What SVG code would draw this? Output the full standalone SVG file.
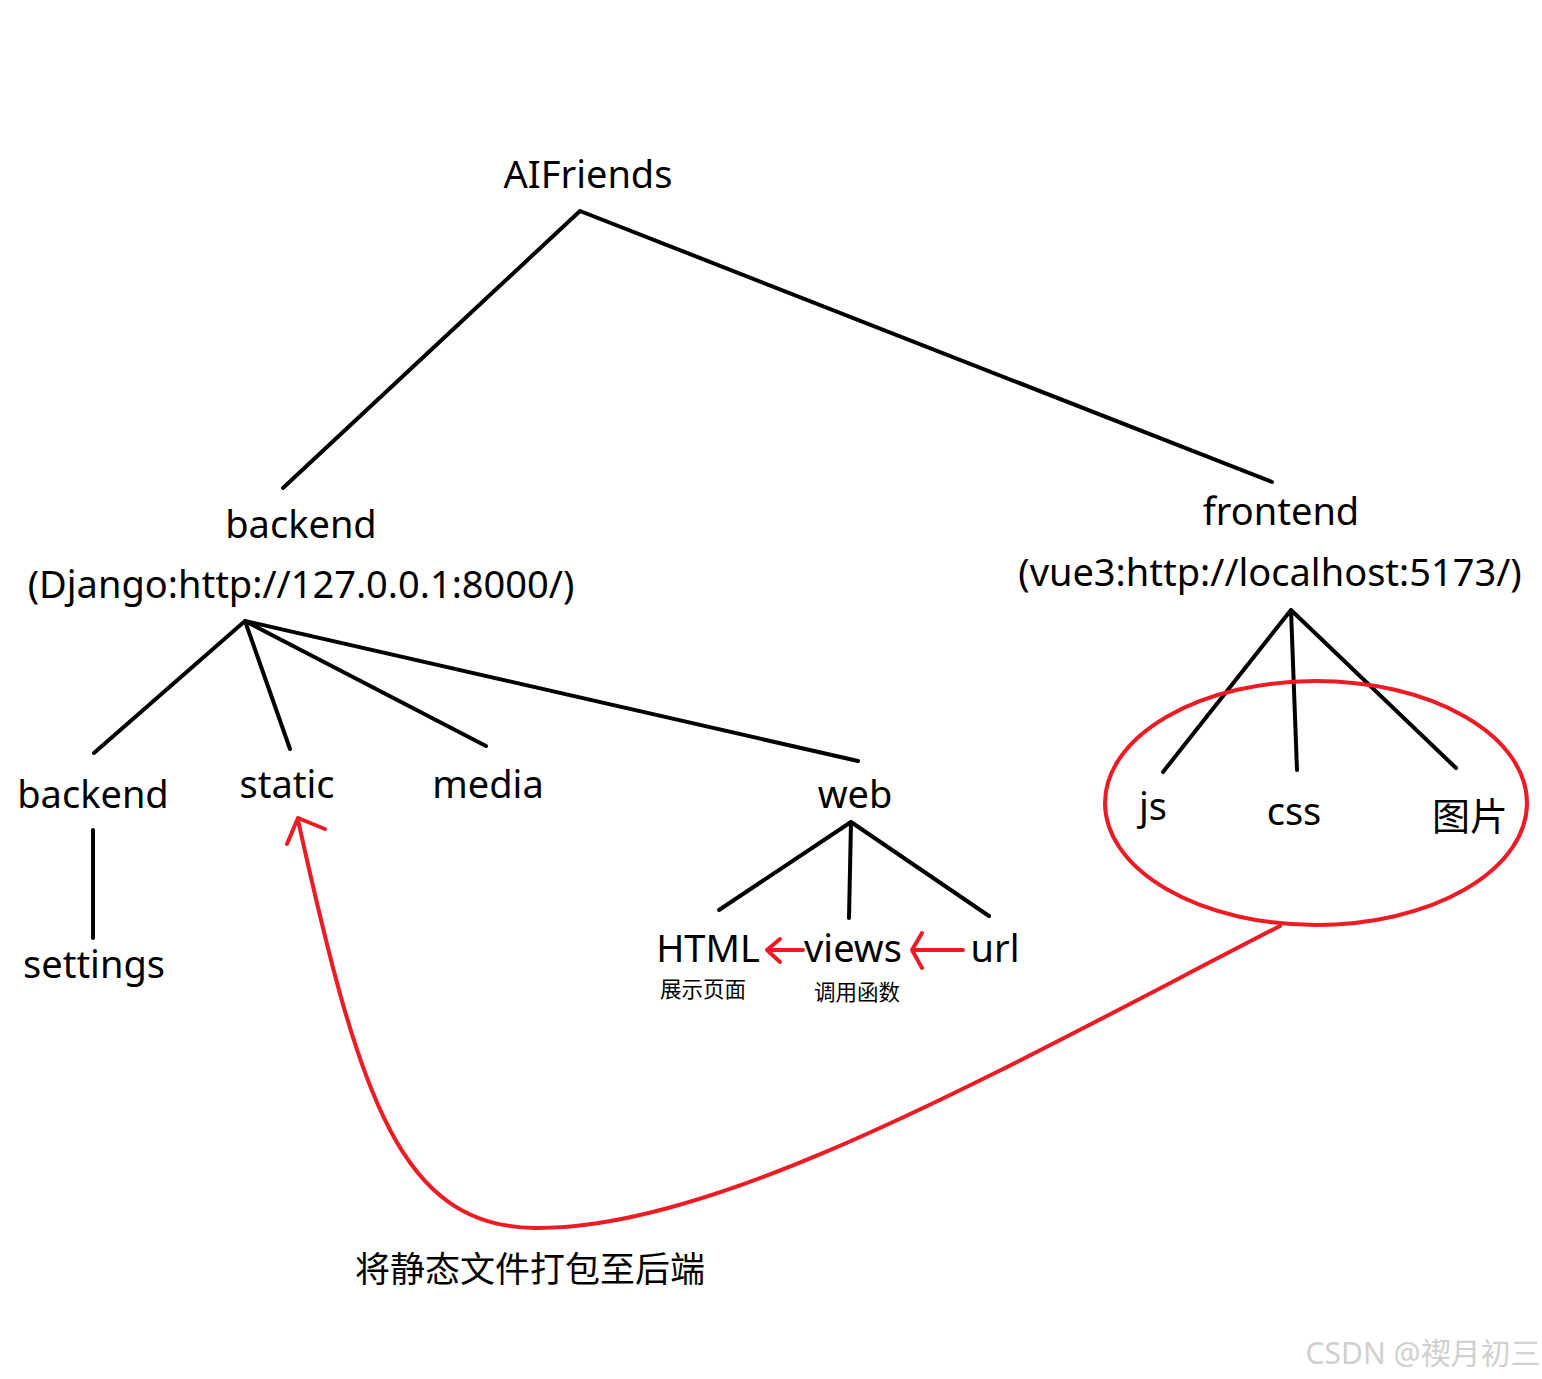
<svg xmlns="http://www.w3.org/2000/svg" width="1542" height="1379" viewBox="0 0 1542 1379">
<style>
text{font-family:"Noto Sans","Noto Sans CJK SC",sans-serif;fill:#000;text-anchor:middle}
.n{font-size:38px}
.s{font-size:21.5px}
.blk{stroke:#000;stroke-width:4;stroke-linecap:round;fill:none}
.red{stroke:#ed1c24;stroke-width:4;stroke-linecap:round;stroke-linejoin:round;fill:none}
</style>
<rect width="1542" height="1379" fill="#fff"/>
<g id="connectors">
<path class="blk" d="M580,211 L283,488 M580,211 L1272,482"/>
<path class="blk" d="M245,621 L94,753 M245,621 L290,749 M245,621 L486,746 M245,621 L858,761"/>
<path class="blk" d="M93,830 L93,938"/>
<path class="blk" d="M851,822 L719,910 M851,822 L849,918 M851,822 L989,916"/>
<path class="blk" d="M1291,610 L1163,772 M1291,610 L1297,770 M1291,610 L1456,768"/>
<path class="red" d="M803,950 L767,950 M780,939 L767,950 L780,962"/>
<path class="red" d="M963,950 L912,950 M922,933 L912,950 L922,968"/>
<path class="red" d="M1280,926 C1000,1070 720,1230 535,1228 C400,1226 360,1100 298,820 M287,844 L298,818 L325,829"/>
</g>
<g id="frontend-group"><ellipse class="red" cx="1316" cy="803" rx="211" ry="122"/></g>
<g id="aifriends"><text class="n" x="588" y="188">AIFriends</text></g>
<g id="backend"><text class="n" x="301" y="538">backend</text><text class="n" x="301" y="598">(Django:http://127.0.0.1:8000/)</text></g>
<g id="frontend"><text class="n" x="1281" y="525">frontend</text><text class="n" x="1270" y="586">(vue3:http://localhost:5173/)</text></g>
<g id="backend-sub"><text class="n" x="93" y="808">backend</text></g>
<g id="static"><text class="n" x="287" y="798">static</text></g>
<g id="media"><text class="n" x="488" y="798">media</text></g>
<g id="web"><text class="n" x="855" y="808">web</text></g>
<g id="settings"><text class="n" x="94" y="978">settings</text></g>
<g id="js"><text class="n" x="1153" y="820">js</text></g>
<g id="css"><text class="n" x="1294" y="825">css</text></g>
<g id="img"><text class="n" x="1470" y="830">图片</text></g>
<g id="html"><text class="n" x="708" y="962">HTML</text><text class="s" x="703" y="997">展示页面</text></g>
<g id="views"><text class="n" x="853" y="962">views</text><text class="s" x="857" y="1000">调用函数</text></g>
<g id="url"><text class="n" x="995" y="962">url</text></g>
<g id="note"><text style="font-size:35px" x="530" y="1282">将静态文件打包至后端</text></g>
<g id="watermark"><text style="font-size:30px;fill:#d0d0d0" x="1423" y="1364">CSDN @禊月初三</text></g>
</svg>
